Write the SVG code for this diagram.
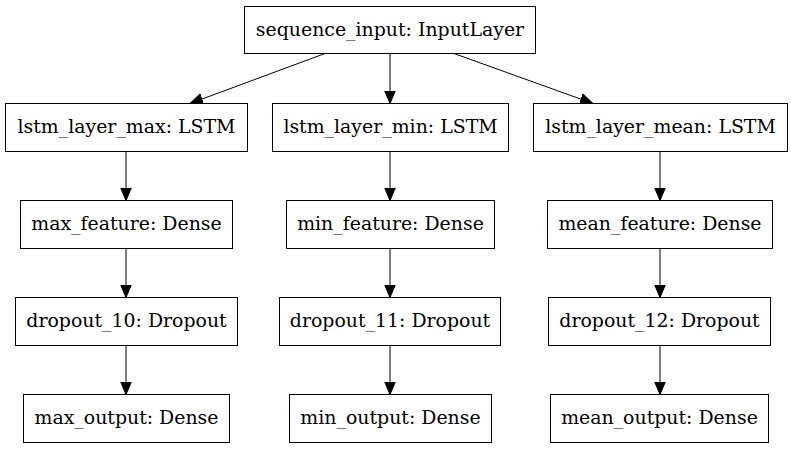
<svg xmlns="http://www.w3.org/2000/svg" width="791" height="449" viewBox="0 0 791 449">
<defs>
<marker id="ah" markerUnits="userSpaceOnUse" markerWidth="15" markerHeight="13" refX="13" refY="6" orient="auto" viewBox="0 0 15 12">
<path d="M0,0.5 L13,6 L0,11.5 z" fill="#000" stroke="#000" stroke-width="1"/>
</marker>
<style>
.box{fill:#fff;stroke:#000;stroke-width:1}
.lbl{font-family:"DejaVu Serif",serif;font-size:18.9px;fill:#000;text-anchor:middle}
.edge{stroke:#000;stroke-width:1;fill:none;marker-end:url(#ah)}
</style>
</defs>
<rect width="791" height="449" fill="#fff"/>
<g id="connectors">
<path class="edge" d="M325,53.5 L190,103.5"/>
<path class="edge" d="M390,53.5 L390,103.5"/>
<path class="edge" d="M454,53.5 L593,103.5"/>
<path class="edge" d="M126,151.5 L126,200.5"/>
<path class="edge" d="M126,248.5 L126,297.5"/>
<path class="edge" d="M126,345.5 L126,394.5"/>
<path class="edge" d="M390,151.5 L390,200.5"/>
<path class="edge" d="M390,248.5 L390,297.5"/>
<path class="edge" d="M390,345.5 L390,394.5"/>
<path class="edge" d="M660,151.5 L660,200.5"/>
<path class="edge" d="M660,248.5 L660,297.5"/>
<path class="edge" d="M660,345.5 L660,394.5"/>
</g>
<g id="sequence_input"><rect class="box" x="244.5" y="6.5" width="291" height="47"/><text class="lbl" x="390" y="35.5">sequence_input: InputLayer</text></g>
<g id="lstm_layer_max"><rect class="box" x="5.5" y="103.5" width="242" height="48"/><text class="lbl" x="126.5" y="132.5">lstm_layer_max: LSTM</text></g>
<g id="lstm_layer_min"><rect class="box" x="272.5" y="103.5" width="236" height="48"/><text class="lbl" x="390.5" y="132.5">lstm_layer_min: LSTM</text></g>
<g id="lstm_layer_mean"><rect class="box" x="533.5" y="103.5" width="254" height="48"/><text class="lbl" x="660.5" y="132.5">lstm_layer_mean: LSTM</text></g>
<g id="max_feature"><rect class="box" x="20.5" y="200.5" width="212" height="48"/><text class="lbl" x="126.5" y="229.5">max_feature: Dense</text></g>
<g id="min_feature"><rect class="box" x="286.5" y="200.5" width="208" height="48"/><text class="lbl" x="390.5" y="229.5">min_feature: Dense</text></g>
<g id="mean_feature"><rect class="box" x="547.5" y="200.5" width="225" height="48"/><text class="lbl" x="660" y="229.5">mean_feature: Dense</text></g>
<g id="dropout_10"><rect class="box" x="15.5" y="297.5" width="222" height="48"/><text class="lbl" x="126.5" y="327">dropout_10: Dropout</text></g>
<g id="dropout_11"><rect class="box" x="279.5" y="297.5" width="221" height="48"/><text class="lbl" x="390" y="327">dropout_11: Dropout</text></g>
<g id="dropout_12"><rect class="box" x="548.5" y="297.5" width="222" height="48"/><text class="lbl" x="659.5" y="327">dropout_12: Dropout</text></g>
<g id="max_output"><rect class="box" x="23.5" y="394.5" width="206" height="48"/><text class="lbl" x="126.5" y="424">max_output: Dense</text></g>
<g id="min_output"><rect class="box" x="289.5" y="394.5" width="202" height="48"/><text class="lbl" x="390.5" y="424">min_output: Dense</text></g>
<g id="mean_output"><rect class="box" x="550.5" y="394.5" width="218" height="48"/><text class="lbl" x="659.5" y="424">mean_output: Dense</text></g>
</svg>
